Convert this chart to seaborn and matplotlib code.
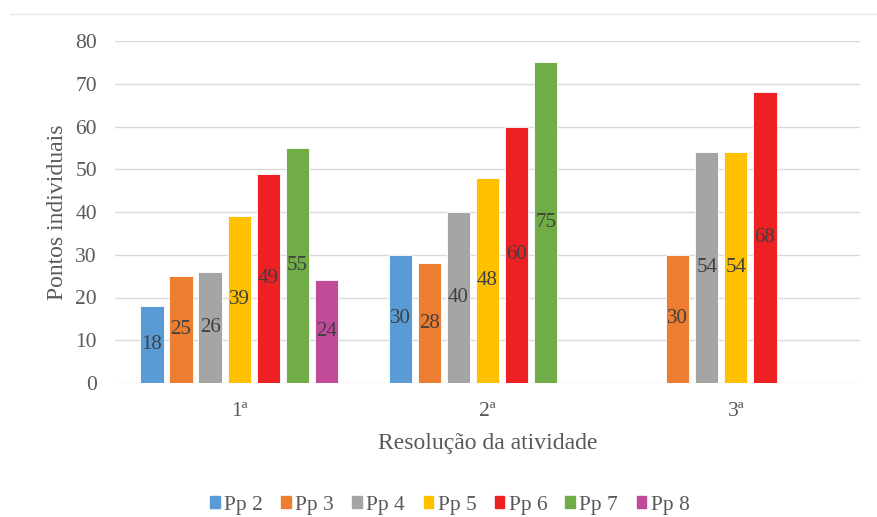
import numpy as np
import pandas as pd
import matplotlib
matplotlib.use("Agg")
import matplotlib.pyplot as plt
import seaborn as sns

rounds = ["1ª", "2ª", "3ª"]
participants = ["Pp 2", "Pp 3", "Pp 4", "Pp 5", "Pp 6", "Pp 7", "Pp 8"]
pp2 = [18, 30, np.nan]
pp3 = [25, 28, 30]
pp4 = [26, 40, 54]
pp5 = [39, 48, 54]
pp6 = [49, 60, 68]
pp7 = [55, 75, np.nan]
pp8 = [24, np.nan, np.nan]
palette = ["#5B9BD5", "#ED7D31", "#A5A5A5", "#FFC000", "#EE2024", "#70AD47", "#C24A9B"]

series = [pp2, pp3, pp4, pp5, pp6, pp7, pp8]
rows = []
for name, vals in zip(participants, series):
    for r, v in zip(rounds, vals):
        rows.append({"Resolução": r, "Participante": name, "Pontos": v})
df = pd.DataFrame(rows).dropna()

sns.set_theme(style="white")
serif = ["Liberation Serif", "DejaVu Serif"]
plt.rcParams["font.family"] = serif

fig = plt.figure(figsize=(8.77, 5.17), dpi=100)
ax = fig.add_axes([115 / 877, 1 - 383 / 517, 745 / 877, 342 / 517])

sns.barplot(data=df, x="Resolução", y="Pontos", hue="Participante",
            order=rounds, hue_order=participants, palette=palette,
            saturation=1, width=0.82, gap=0.2, edgecolor="white", linewidth=0.6,
            errorbar=None, ax=ax, zorder=3)

for cont in ax.containers:
    ax.bar_label(cont, fmt="%g", label_type="center", fontsize=15,
                 color="#404040")

ax.set_ylim(0, 80)
ax.set_xlim(-0.5, 2.5)
ax.set_yticks(range(0, 81, 10))
ax.grid(axis="y", color="#D9D9D9", linewidth=1.0, zorder=0)
ax.set_axisbelow(True)
for s in ax.spines.values():
    s.set_visible(False)
ax.tick_params(axis="both", length=0, labelsize=15.5, labelcolor="#595959")
ax.tick_params(axis="y", pad=13)
ax.tick_params(axis="x", pad=14)
ax.set_xlabel("Resolução da atividade", fontsize=17, color="#595959", labelpad=8)
ax.set_ylabel("Pontos individuais", fontsize=17, color="#595959", labelpad=5)

ax.legend_.remove()
handles = [plt.Rectangle((0, 0), 1, 1, color=c) for c in palette]
fig.legend(handles, participants, loc="center", bbox_to_anchor=(0.513, 0.023),
           ncol=7, frameon=False, fontsize=15.5, handlelength=0.45, handleheight=0.45,
           handletextpad=0.2, columnspacing=0.85, labelcolor="#595959")

# faint frame line along the top of the figure
fig.add_artist(plt.Line2D([10 / 877, 1], [1 - 14 / 517] * 2, color="#E6E6E6",
                          linewidth=1.0, transform=fig.transFigure))

fig.savefig("out.png", dpi=100)
